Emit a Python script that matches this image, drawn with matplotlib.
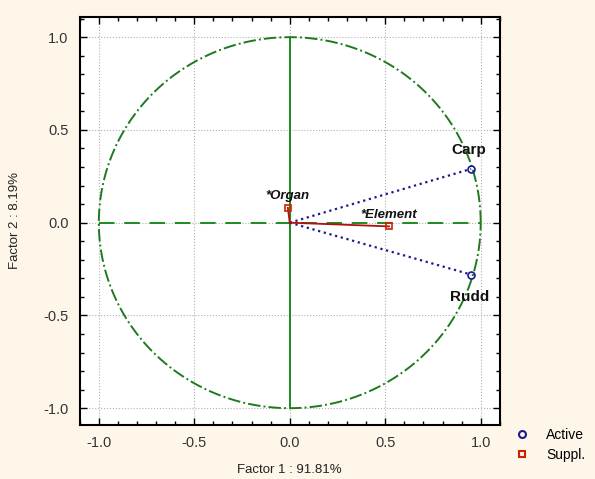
import numpy as np
import matplotlib
matplotlib.use("Agg")
import matplotlib.pyplot as plt
from matplotlib.ticker import MultipleLocator
from matplotlib.lines import Line2D

plt.rcParams["font.family"] = ["Liberation Sans", "DejaVu Sans"]

active_names = ["Carp", "Rudd"]
active_x = [0.95, 0.95]
active_y = [0.29, -0.28]
suppl_names = ["*Organ", "*Element"]
suppl_x = [-0.01, 0.52]
suppl_y = [0.08, -0.02]
xticks = [-1.0, -0.5, 0.0, 0.5, 1.0]
yticks = [-1.0, -0.5, 0.0, 0.5, 1.0]

bg = "#fdf6e9"
fig = plt.figure(figsize=(5.95, 4.79), dpi=100, facecolor=bg)
ax = fig.add_axes([0.134, 0.113, 0.706, 0.852])
ax.set_facecolor("white")
ax.set_xlim(-1.1, 1.1)
ax.set_ylim(-1.09, 1.11)

ax.set_xticks(xticks)
ax.set_yticks(yticks)
ax.xaxis.set_minor_locator(MultipleLocator(0.1))
ax.yaxis.set_minor_locator(MultipleLocator(0.1))
ax.tick_params(which="both", direction="in", top=True, right=True, labelsize=10.5,
               labelcolor="#333333")
ax.tick_params(which="major", length=5, width=1, pad=8)
ax.tick_params(which="minor", length=3, width=1)
ax.set_xticklabels([f"{t:.1f}" for t in xticks])
ax.set_yticklabels([f"{t:.1f}" for t in yticks])
for s in ax.spines.values():
    s.set_linewidth(1.5)
ax.grid(True, which="major", linestyle=":", color="#b0b0b0", linewidth=0.8)

t = np.linspace(0, 2 * np.pi, 400)
ax.plot(np.cos(t), np.sin(t), color="#1f7a1f", linestyle="-.", linewidth=1.4)
ax.plot([-1, 1], [0, 0], color="#1f8a1f", linestyle=(0, (8, 5)), linewidth=1.4)
ax.plot([0, 0], [-1, 1], color="#1f8a1f", linestyle="-", linewidth=1.4)

for x, y in zip(active_x, active_y):
    ax.plot([0, x], [0, y], color="#1a1a8c", linestyle=":", linewidth=1.6)
for x, y in zip(suppl_x, suppl_y):
    ax.plot([0, x], [0, y], color="#b01010", linestyle="-", linewidth=1.3)

ax.plot(active_x, active_y, "o", mfc="none", mec="#1a1a8c", ms=5, mew=1.2)
ax.plot(suppl_x, suppl_y, "s", mfc="none", mec="#cc2200", ms=5, mew=1.2)

ax.text(0.94, 0.39, active_names[0], fontsize=11, fontweight="bold",
        ha="center", va="center", color="#111111")
ax.text(0.94, -0.40, active_names[1], fontsize=11, fontweight="bold",
        ha="center", va="center", color="#111111")
ax.text(-0.01, 0.145, suppl_names[0], fontsize=9.5, fontweight="bold", style="italic",
        ha="center", va="center", color="#111111")
ax.text(0.52, 0.04, suppl_names[1], fontsize=9.5, fontweight="bold", style="italic",
        ha="center", va="center", color="#111111")

ax.set_xlabel("Factor 1 : 91.81%", fontsize=9.5, labelpad=10, color="#222222")
ax.set_ylabel("Factor 2 : 8.19%", fontsize=9.5, labelpad=16, color="#222222")

handles = [Line2D([], [], marker="o", ls="none", mfc="none", mec="#1a1a8c", ms=5, mew=1.5),
           Line2D([], [], marker="s", ls="none", mfc="none", mec="#cc2200", ms=5, mew=1.5)]
fig.legend(handles, ["Active", "Suppl."], loc="upper left", bbox_to_anchor=(0.845, 0.118),
           frameon=False, fontsize=10, handletextpad=0.7, labelspacing=0.4, borderaxespad=0)

fig.savefig("out.png", dpi=100, facecolor=bg)
